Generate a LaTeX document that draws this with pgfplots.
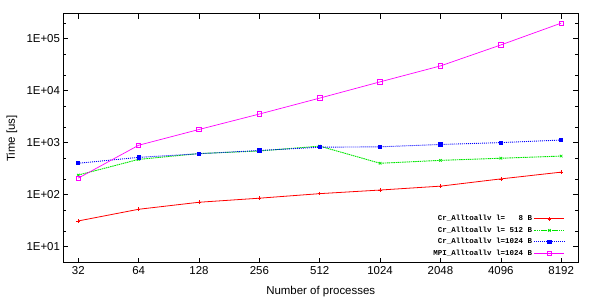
\documentclass[border=0pt]{standalone}
\usepackage{fontspec}
\setmainfont{Liberation Sans}
\setmonofont{Liberation Mono}
\usepackage{pgfplots}
\pgfplotsset{compat=1.18}
\definecolor{cred}{RGB}{255,0,0}
\definecolor{cgreen}{RGB}{0,230,0}
\definecolor{cblue}{RGB}{0,0,255}
\definecolor{cmag}{RGB}{255,0,255}
\begin{document}
\begin{tikzpicture}
\begin{axis}[
  scale only axis,
  width=514.5bp, height=249bp,
  xmode=log, ymode=log, log basis x=2,
  xmin=27, xmax=9940,
  ymin=4.8, ymax=3e5,
  xtick={32,64,128,256,512,1024,2048,4096,8192},
  xticklabels={32,64,128,256,512,1024,2048,4096,8192},
  ytick={10,100,1000,10000,100000},
  yticklabels={1E+01,1E+02,1E+03,1E+04,1E+05},
  minor ytick={5,20,50,200,500,2000,5000,20000,50000,200000},
  tick align=inside,
  major tick length=5bp, minor tick length=3bp,
  every tick/.style={black, line width=0.6pt},
  axis line style={line width=1pt},
  ticklabel style={font=\fontsize{11.5}{13}\selectfont},
  label style={font=\fontsize{11.5}{13}\selectfont},
  xlabel={Number of processes},
  ylabel={Time [us]},
  xlabel style={at={(axis description cs:0.5,-0.1165)}, anchor=center},
  ylabel style={at={(axis description cs:-0.1001,0.5)}, anchor=center},
  legend plot pos=right,
  legend cell align=right,
  legend style={at={(rel axis cs:0.975,0.016)}, anchor=south east, draw=none, fill=none,
    font=\fontsize{7.5}{8}\selectfont\ttfamily\bfseries, row sep=0.6bp,
    inner sep=0pt},
  legend image code/.code={%
    \draw[mark=none] (0bp,0bp) -- (30bp,0bp);
    \draw[only marks] plot coordinates {(15bp,0bp)};},
]
\addplot[cred, line width=0.8pt, mark=+, mark size=1.8bp, mark options={solid, line width=0.6pt}] coordinates {
(32,31) (64,52) (128,71) (256,85) (512,104) (1024,122) (2048,145) (4096,200) (8192,270)};
\addlegendentry{Cr\_Alltoallv l=\hphantom{000}8 B}
\addplot[cgreen, line width=0.9pt, dash pattern=on 1.5pt off 0.7pt, mark=x, mark size=1.8bp, mark options={solid, line width=0.7pt}] coordinates {
(32,237) (64,475) (128,615) (256,690) (512,855) (1024,400) (2048,455) (4096,500) (8192,550)};
\addlegendentry{Cr\_Alltoallv l=\hphantom{0}512 B}
\addplot[cblue, line width=0.9pt, dash pattern=on 1pt off 1pt, mark=square*, mark size=1.6bp, mark options={solid}] coordinates {
(32,400) (64,520) (128,610) (256,705) (512,815) (1024,830) (2048,920) (4096,1000) (8192,1120)};
\addlegendentry{Cr\_Alltoallv l=1024 B}
\addplot[cmag, line width=0.7pt, mark=square, mark size=2.2bp, mark options={solid, line width=0.8pt}] coordinates {
(32,207) (64,890) (128,1790) (256,3550) (512,7200) (1024,14800) (2048,30000) (4096,76000) (8192,200000)};
\addlegendentry{MPI\_Alltoallv l=1024 B}
\coordinate (sw) at (rel axis cs:0,0);
\coordinate (ne) at (rel axis cs:1,1);
\end{axis}
\path ([xshift=-63.5bp,yshift=-37bp]sw) rectangle ([xshift=21bp,yshift=14bp]ne);
\end{tikzpicture}
\end{document}
